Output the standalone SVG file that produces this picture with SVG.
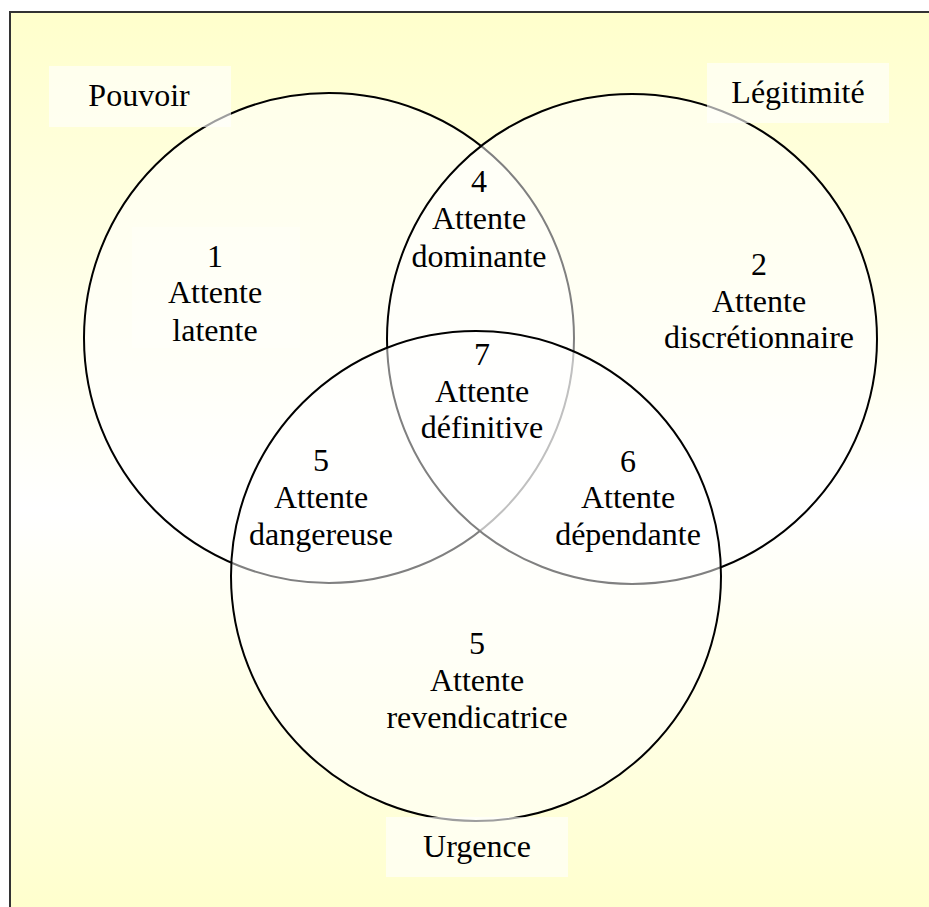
<svg xmlns="http://www.w3.org/2000/svg" width="929" height="907" viewBox="0 0 929 907">
  <defs>
    <linearGradient id="bg" x1="0" y1="0" x2="0" y2="1">
      <stop offset="0" stop-color="#FFFFCC"/>
      <stop offset="0.55" stop-color="#FFFFFF"/>
      <stop offset="1" stop-color="#FFFFCC"/>
    </linearGradient>
  </defs>
  <style>
    .circ { fill: #FFFFFF; fill-opacity: 0.5; stroke: #000000; stroke-width: 2; }
    .lbox { fill: #FFFFFF; fill-opacity: 0.62; stroke: none; }
    .t { font-family: "Liberation Serif", "Times New Roman", serif; font-size: 32px; fill: #000000; text-anchor: middle; }
  </style>
  <rect x="10" y="12" width="935" height="905" fill="url(#bg)" stroke="#333333" stroke-width="2"/>

  <g id="connectors"></g>

  <g id="circle-pouvoir">
    <circle class="circ" cx="329" cy="338" r="245"/>
  </g>
  <g id="circle-legitimite">
    <circle class="circ" cx="632" cy="339" r="245"/>
  </g>
  <g id="circle-urgence">
    <circle class="circ" cx="476" cy="576" r="245"/>
  </g>

  <g id="label-pouvoir">
    <rect class="lbox" x="49" y="66" width="182" height="61"/>
    <text class="t" x="139" y="106">Pouvoir</text>
  </g>
  <g id="label-legitimite">
    <rect class="lbox" x="707" y="63" width="182" height="60"/>
    <text class="t" x="798" y="103">Légitimité</text>
  </g>
  <g id="label-urgence">
    <rect class="lbox" x="386" y="817" width="182" height="60"/>
    <text class="t" x="477" y="857">Urgence</text>
  </g>

  <g id="region-1">
    <rect x="132" y="227" width="168" height="121" fill="#FFFFFF" fill-opacity="0.3"/>
    <text class="t" x="215" y="267">1</text>
    <text class="t" x="215" y="303">Attente</text>
    <text class="t" x="215" y="341">latente</text>
  </g>
  <g id="region-2">
    <text class="t" x="759" y="275">2</text>
    <text class="t" x="759" y="312">Attente</text>
    <text class="t" x="759" y="348">discrétionnaire</text>
  </g>
  <g id="region-4">
    <text class="t" x="479" y="192">4</text>
    <text class="t" x="479" y="229">Attente</text>
    <text class="t" x="479" y="267">dominante</text>
  </g>
  <g id="region-7">
    <text class="t" x="482" y="365">7</text>
    <text class="t" x="482" y="402">Attente</text>
    <text class="t" x="482" y="438">définitive</text>
  </g>
  <g id="region-5a">
    <text class="t" x="321" y="471">5</text>
    <text class="t" x="321" y="508">Attente</text>
    <text class="t" x="321" y="545">dangereuse</text>
  </g>
  <g id="region-6">
    <text class="t" x="628" y="472">6</text>
    <text class="t" x="628" y="508">Attente</text>
    <text class="t" x="628" y="545">dépendante</text>
  </g>
  <g id="region-5b">
    <text class="t" x="477" y="654">5</text>
    <text class="t" x="477" y="691">Attente</text>
    <text class="t" x="477" y="728">revendicatrice</text>
  </g>
</svg>
